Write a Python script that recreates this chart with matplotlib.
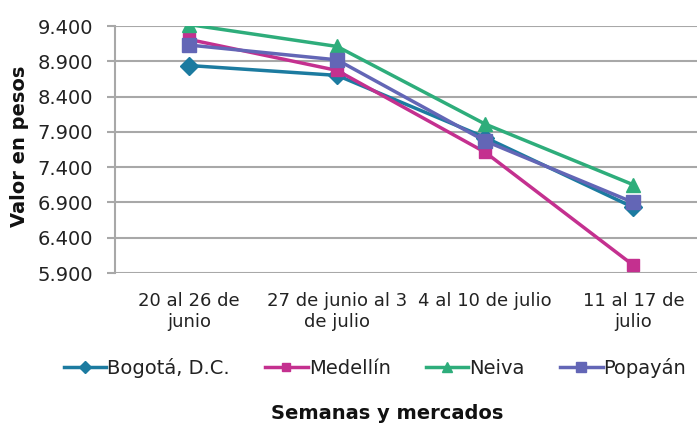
import matplotlib
matplotlib.use("Agg")
import matplotlib.pyplot as plt

plt.rcParams["font.family"] = ["DejaVu Sans"]

# data
weeks = ["20 al 26 de\njunio", "27 de junio al 3\nde julio",
         "4 al 10 de julio", "11 al 17 de\njulio"]
bogota = [8840, 8700, 7820, 6830]
medellin = [9210, 8770, 7610, 6010]
neiva = [9420, 9110, 8010, 7150]
popayan = [9130, 8920, 7770, 6900]
yticks = [5900, 6400, 6900, 7400, 7900, 8400, 8900, 9400]

series = [
    ("Bogotá, D.C.", bogota, "#1C7BA0", "D", 9),
    ("Medellín", medellin, "#C4308F", "s", 9),
    ("Neiva", neiva, "#2EAD7B", "^", 10),
    ("Popayán", popayan, "#6366B6", "s", 10),
]

fig = plt.figure(figsize=(6.97, 4.23), dpi=100)
ax = fig.add_axes([115 / 697, 1 - 273 / 423, 582 / 697, 247 / 423])

x = range(len(weeks))
for name, vals, color, marker, ms in series:
    ax.plot(x, vals, color=color, lw=2.5, marker=marker, ms=ms,
            label=name, zorder=3)

ax.set_ylim(5900, 9400)
ax.set_xlim(-0.5, 3.43)
ax.set_yticks(yticks)
ax.set_yticklabels([f"{v:,}".replace(",", ".") for v in yticks])
ax.set_xticks(list(x))
ax.set_xticklabels(weeks)
ax.tick_params(axis="y", labelsize=14, length=6, width=1.5,
               color="#A8A8A8", pad=10, labelcolor="#222222")
ax.tick_params(axis="x", labelsize=13, length=0, pad=14,
               labelcolor="#222222")

ax.grid(axis="y", color="#A8A8A8", lw=1.5, zorder=0)
for side in ("top", "right", "bottom"):
    ax.spines[side].set_visible(False)
ax.spines["left"].set_color("#A8A8A8")
ax.spines["left"].set_linewidth(1.5)

fig.text(20 / 697, 1 - 146 / 423, "Valor en pesos", rotation=90,
         ha="center", va="center", fontsize=14, fontweight="bold",
         color="#111111")

fig.legend(loc="center", bbox_to_anchor=(375 / 697, 1 - 368 / 423),
           ncol=4, frameon=False, fontsize=14, handlelength=2.2,
           handletextpad=0.05, columnspacing=1.8, markerscale=0.7,
           labelcolor="#222222")
fig.text(387 / 697, 1 - 413 / 423, "Semanas y mercados", ha="center",
         va="center", fontsize=14, fontweight="bold", color="#111111")

fig.savefig("out.png", dpi=100)
